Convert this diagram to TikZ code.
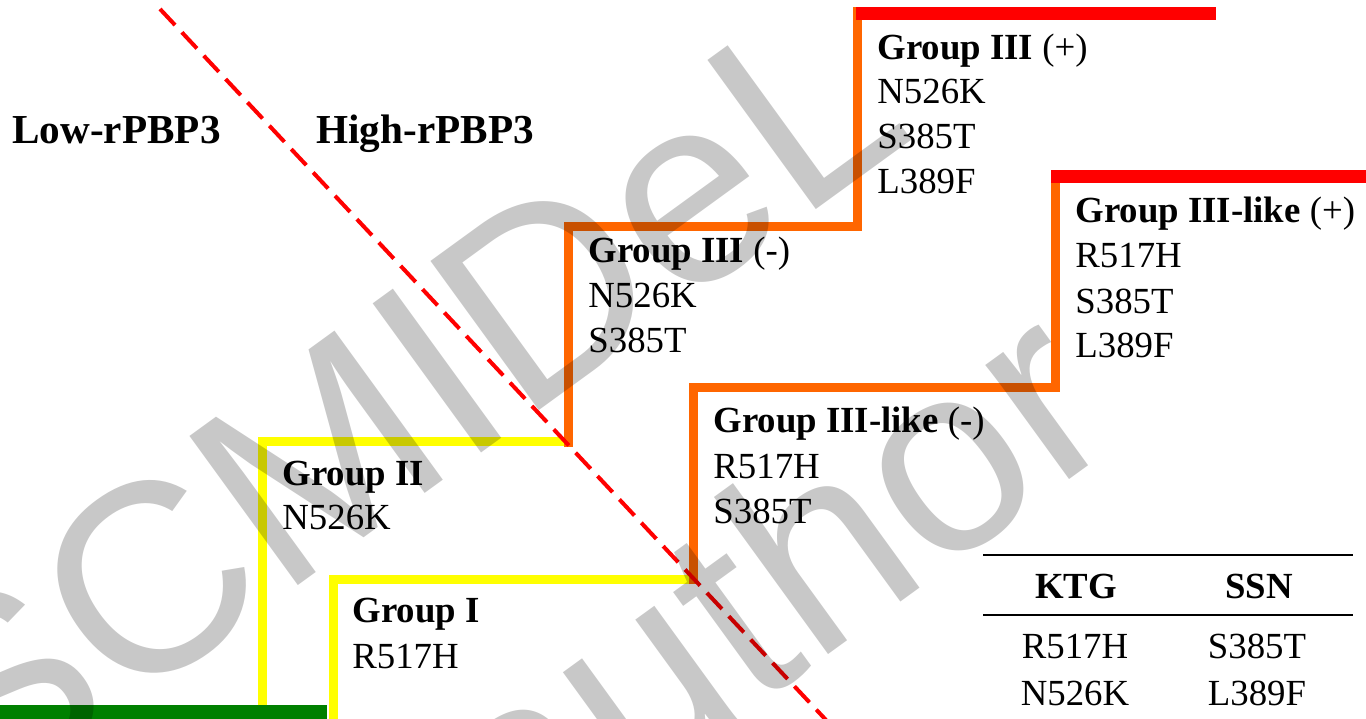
\documentclass[tikz,border=0pt]{standalone}
\usepackage{fontspec}
\setmainfont{Liberation Serif}
\newfontfamily\wmfont{Liberation Sans}
\definecolor{stepred}{RGB}{255,0,0}
\definecolor{steporange}{RGB}{255,102,0}
\definecolor{stepyellow}{RGB}{255,255,0}
\definecolor{stepgreen}{RGB}{0,128,0}
\begin{document}
\begin{tikzpicture}[x=0.5pt,y=-0.5pt,
  stepline/.style={line width=4.5pt, line join=miter, line cap=butt},
  topline/.style={line width=6.5pt, line cap=butt},
  divide/.style={draw=stepred, line width=2pt, dash pattern=on 11pt off 5pt},
  lbl/.style={anchor=base west, inner sep=0pt, font=\fontsize{18.4}{22}\selectfont},
  cell/.style={anchor=base, inner sep=0pt, font=\fontsize{18.4}{22}\selectfont},
  side/.style={anchor=base west, inner sep=0pt, font=\fontsize{20.6}{24}\selectfont\bfseries},
  rule/.style={line width=1pt},
  wm/.style={anchor=base west, inner sep=0pt, rotate=36, text=black, text opacity=0.215,
    font=\wmfont\fontsize{134}{134}\selectfont}
]
\useasboundingbox[fill=white] (0,0) rectangle (1366,718);

% corner points of the staircase
\coordinate (grA) at (-5,712);
\coordinate (grB) at (327,712);
\coordinate (g2b) at (262,705);
\coordinate (g2c) at (262,441);
\coordinate (g2e) at (570,441);
\coordinate (g1b) at (333,722);
\coordinate (g1c) at (333,579.5);
\coordinate (g1e) at (692,579.5);
\coordinate (g3b) at (568,447);
\coordinate (g3c) at (568,226);
\coordinate (g3d) at (857,226);
\coordinate (g3t) at (857,7);
\coordinate (g4b) at (693,584);
\coordinate (g4c) at (693,387);
\coordinate (g4d) at (1055,387);
\coordinate (g4t) at (1055,170);
\coordinate (r1a) at (856,13.5);
\coordinate (r1b) at (1216,13.5);
\coordinate (r2a) at (1051,176);
\coordinate (r2b) at (1372,176);
\coordinate (dA) at (160,9);
\coordinate (dB) at (826,720);

% staircase
\draw[stepgreen, line width=7pt] (grA) -- (grB);
\draw[stepyellow, stepline] (g2b) -- (g2c) -- (g2e);
\draw[stepyellow, stepline] (g1b) -- (g1c) -- (g1e);
\draw[steporange, stepline] (g3b) -- (g3c) -- (g3d) -- (g3t);
\draw[steporange, stepline] (g4b) -- (g4c) -- (g4d) -- (g4t);
\draw[stepred, topline] (r1a) -- (r1b);
\draw[stepred, topline] (r2a) -- (r2b);

% low / high boundary
\draw[divide] (dA) -- (dB);

% side captions
\node[side] (low) at (12,143) {Low-rPBP3};
\node[side] (high) at (316,143) {High-rPBP3};

% group labels
\node[lbl] (g1t) at (352,622) {\textbf{Group I}};
\node[lbl] (g1m1) at (352,668) {R517H};

\node[lbl] (g2t) at (282,485) {\textbf{Group II}};
\node[lbl] (g2m1) at (282,529) {N526K};

\node[lbl] (g3t) at (588,262) {\textbf{Group III} (-)};
\node[lbl] (g3m1) at (588,307) {N526K};
\node[lbl] (g3m2) at (588,352) {S385T};

\node[lbl] (g3pt) at (877,59) {\textbf{Group III} (+)};
\node[lbl] (g3pm1) at (877,103) {N526K};
\node[lbl] (g3pm2) at (877,148) {S385T};
\node[lbl] (g3pm3) at (877,193) {L389F};

\node[lbl] (g4t) at (713,432) {\textbf{Group III-like} (-)};
\node[lbl] (g4m1) at (713,478) {R517H};
\node[lbl] (g4m2) at (713,523) {S385T};

\node[lbl] (g4pt) at (1075,222) {\textbf{Group III-like} (+)};
\node[lbl] (g4pm1) at (1075,267) {R517H};
\node[lbl] (g4pm2) at (1075,313) {S385T};
\node[lbl] (g4pm3) at (1075,357) {L389F};

% motif table
\coordinate (tl) at (983,555);
\coordinate (tr) at (1353,555);
\coordinate (ml) at (983,615);
\coordinate (mr) at (1353,615);
\draw[rule] (tl) -- (tr);
\draw[rule] (ml) -- (mr);
\node[cell] (hk) at (1076,598) {\textbf{KTG}};
\node[cell] (hs) at (1259,598) {\textbf{SSN}};
\node[cell] (k1) at (1075,658) {R517H};
\node[cell] (k2) at (1075,705) {N526K};
\node[cell] (s1) at (1257,658) {S385T};
\node[cell] (s2) at (1257,705) {L389F};

% watermark
\begin{scope}
\clip (0,0) rectangle (1366,718);
\node[wm] (wm1) at (-21,818) {SCMIDeL};
\node[wm] (wm2) at (512,885) {author};
\end{scope}
\end{tikzpicture}
\end{document}
